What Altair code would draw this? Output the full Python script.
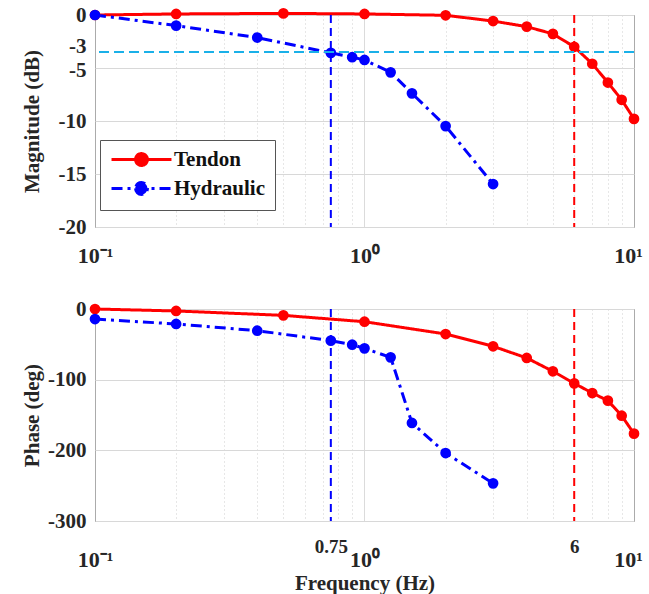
import altair as alt
import pandas as pd

# ---------------- data ----------------
series_names = ["Tendon", "Hydraulic"]
series_colors = ["#ff0000", "#0000ff"]
series_dash = [[1, 0], [11, 5, 3, 5]]

freq_tendon = [0.1, 0.2, 0.5, 1, 2, 3, 4, 5, 6, 7, 8, 9, 10]
mag_tendon = [0, 0.1, 0.15, 0.1, -0.03, -0.57, -1.1, -1.78, -3.0, -4.6, -6.37, -8.0, -9.8]
phase_tendon = [0, -2.8, -9, -18, -35.4, -52.8, -69.3, -88.2, -105.2, -118.9, -129.7, -151, -176.4]

freq_hydraulic = [0.1, 0.2, 0.4, 0.75, 0.9, 1, 1.25, 1.5, 2, 3]
mag_hydraulic = [0, -1.0, -2.13, -3.57, -3.98, -4.24, -5.41, -7.39, -10.48, -15.95]
phase_hydraulic = [-14.2, -21.2, -30.7, -44.8, -50.5, -55.7, -68.4, -161.3, -203.8, -246.7]

vline_x = [0.75, 6]
vline_colors = ["#0000ff", "#ff0000"]
hline_y = [-3.5]
hline_colors = ["#1ab0e8"]

mag_ticks = [0, -3, -5, -10, -15, -20]
phase_ticks = [0, -100, -200, -300]
x_major = [0.1, 1, 10]
x_minor = [0.2, 0.3, 0.4, 0.5, 0.6, 0.7, 0.8, 0.9, 2, 3, 4, 5, 6, 7, 8, 9]
x_major_labels = ["10⁻¹", "10⁰", "10¹"]
x_extra = [0.75, 6]
x_extra_labels = ["0.75", "6"]

# ---------------- tables ----------------
def long_df(col_t, col_h):
    rows = []
    for f, v in zip(freq_tendon, col_t):
        rows.append({"freq": f, "value": v, "series": "Tendon"})
    for f, v in zip(freq_hydraulic, col_h):
        rows.append({"freq": f, "value": v, "series": "Hydraulic"})
    return pd.DataFrame(rows)

df_mag = long_df(mag_tendon, mag_hydraulic)
df_phase = long_df(phase_tendon, phase_hydraulic)

FONT = "Liberation Serif"
W, H = 539, 212

xscale = alt.Scale(type="log", domain=[0.1, 10], nice=False)


def label_expr(vals, labels):
    expr = "''"
    for v, l in zip(reversed(vals), reversed(labels)):
        expr = f"abs(datum.value - {v}) < 1e-9 ? '{l}' : ({expr})"
    return expr


def x_axis(with_extra):
    vals = x_major + x_minor + (x_extra if with_extra else [])
    labs = x_major_labels + (x_extra_labels if with_extra else [])
    lvals = x_major + (x_extra if with_extra else [])
    major_test = " || ".join(f"abs(datum.value - {v}) < 1e-9" for v in x_major)
    extra_test = " || ".join(f"abs(datum.value - {v}) < 1e-9" for v in x_extra)
    kw = dict(
        values=vals,
        labelExpr=label_expr(lvals, labs),
        title="Frequency (Hz)" if with_extra else None,
        grid=True,
        ticks=False,
        domain=False,
        labelFont=FONT,
        labelFontWeight="bold",
        labelFontSize=22,
        labelColor="#262626",
        labelFlush=False,
        labelOverlap=False,
        labelOffset={"condition": {"test": "datum.value > 9.5", "value": -6}, "value": 0},
        gridColor="#cfcfcf",
        gridDash={"condition": {"test": major_test, "value": [1, 0]}, "value": [1, 3]},
        titleFont=FONT,
        titleFontWeight="bold",
        titleFontSize=21,
        titleColor="#262626",
        titlePadding=2,
    )
    if with_extra:
        kw["gridOpacity"] = {"condition": {"test": extra_test, "value": 0}, "value": 1}
        kw["labelPadding"] = {"condition": {"test": extra_test, "value": 16}, "value": 28}
        kw["labelFontSize"] = {"condition": {"test": extra_test, "value": 19}, "value": 22}
    else:
        kw["labelPadding"] = 18
    return alt.Axis(**kw)


def y_axis(ticks, title, hide=None):
    kw = dict(
        values=ticks,
        title=title,
        labelExpr="toString(datum.value)",
        grid=True,
        ticks=False,
        domain=False,
        labelFont=FONT,
        labelFontWeight="bold",
        labelFontSize=21,
        labelColor="#262626",
        labelPadding=9,
        labelFlush=False,
        gridColor="#d8d8d8",
        titleFont=FONT,
        titleFontWeight="bold",
        titleFontSize=21,
        titleColor="#262626",
        titleX=-53,
        titleY=H / 2,
        titleAnchor="middle",
    )
    if hide is not None:
        kw["gridOpacity"] = {"condition": {"test": f"datum.value == {hide}", "value": 0}, "value": 1}
        kw["labelBaseline"] = {
            "condition": [
                {"test": f"datum.value == {hide}", "value": "alphabetic"},
                {"test": "datum.value == -5", "value": "top"},
            ],
            "value": "middle",
        }
        kw["labelOffset"] = {
            "condition": [
                {"test": f"datum.value == {hide}", "value": 6},
                {"test": "datum.value == -5", "value": -9},
            ],
            "value": 0,
        }
    return alt.Axis(**kw)


def panel(df, ydomain, yticks, ytitle, with_extra, legend, hide=None):
    x = alt.X("freq:Q", scale=xscale, axis=x_axis(with_extra))
    y = alt.Y("value:Q", scale=alt.Scale(domain=ydomain, nice=False), axis=y_axis(yticks, ytitle, hide))
    if legend:
        leg = alt.Legend(
            title=None,
            orient="none",
            legendX=5,
            legendY=125,
            symbolType="M-5.3,0H5.3M-1.05,0a1.05,1.05 0 1,0 2.1,0a1.05,1.05 0 1,0 -2.1,0",
            symbolSize=128,
            symbolStrokeWidth=3,
            labelFont=FONT,
            labelFontWeight="bold",
            labelFontSize=21,
            labelColor="#111111",
            labelOffset=22,
            strokeColor="#555555",
            fillColor="#ffffff",
            padding=9,
            rowPadding=4,
            symbolOffset=22,
        )
    else:
        leg = None
    color = alt.Color("series:N", scale=alt.Scale(domain=series_names, range=series_colors), legend=leg)
    dash = alt.StrokeDash("series:N", scale=alt.Scale(domain=series_names, range=series_dash), legend=leg)

    layers = []
    for vx, vc in zip(vline_x, vline_colors):
        layers.append(
            alt.Chart(pd.DataFrame({"freq": [vx]}))
            .mark_rule(color=vc, strokeDash=[8, 5], strokeWidth=2)
            .encode(x=alt.X("freq:Q", scale=xscale))
        )
    if hide is not None:
        for hy, hc in zip(hline_y, hline_colors):
            layers.append(
                alt.Chart(pd.DataFrame({"value": [hy]}))
                .mark_rule(color=hc, strokeDash=[10, 5], strokeWidth=2)
                .encode(y=alt.Y("value:Q"))
            )
    base = alt.Chart(df)
    line = base.mark_line(strokeWidth=3).encode(x=x, y=y, color=color, strokeDash=dash)
    pts = base.mark_point(filled=True, size=115, opacity=1).encode(x=x, y=y, color=color)
    return alt.layer(line, pts, *layers).properties(width=W, height=H)


top = panel(df_mag, [-20, 0], mag_ticks, "Magnitude (dB)", False, True, hide=-3)
bottom = panel(df_phase, [-300, 0], phase_ticks, "Phase (deg)", True, False)

chart = (
    alt.vconcat(top, bottom, spacing=82, bounds="flush")
    .properties(padding={"left": 20, "top": 3, "right": 0, "bottom": 0}, background="white")
    .configure_view(stroke="#404040", strokeWidth=1)
)

chart.save("out.html", embed_options={"renderer": "svg", "actions": False})
